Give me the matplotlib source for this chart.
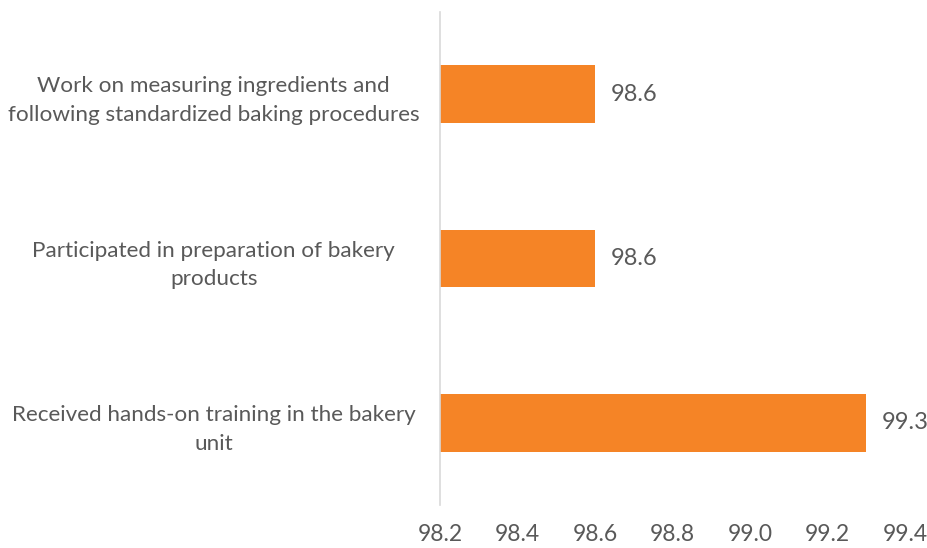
import matplotlib.pyplot as plt

# Survey items (bottom to top as drawn) and their scores
items = [
    "Received hands-on training in the bakery\nunit",
    "Participated in preparation of bakery\nproducts",
    "Work on measuring ingredients and\nfollowing standardized baking procedures",
]
scores = [99.3, 98.6, 98.6]
ticks = [98.2, 98.4, 98.6, 98.8, 99.0, 99.2, 99.4]

plt.rcParams['font.family'] = ['Lato', 'DejaVu Sans']
text_col = '#595959'
fs = 17

fig = plt.figure(figsize=(9.27, 5.48), dpi=100)
ax = fig.add_axes([0.4747, 0.0785, 0.5016, 0.8995])

ypos = range(len(items))
ax.barh(ypos, [s - ticks[0] for s in scores], left=ticks[0], height=0.35,
        color='#F58426')
for y, s in zip(ypos, scores):
    ax.text(s + 0.04, y, f"{s:.1f}", va='center', ha='left',
            fontsize=fs, color=text_col)

ax.set_xlim(ticks[0], ticks[-1])
ax.set_ylim(-0.5, len(items) - 0.5)
ax.set_xticks(ticks)
ax.set_xticklabels([f"{t:.1f}" for t in ticks], fontsize=16.5, color=text_col)
ax.set_yticks(list(ypos))
ax.set_yticklabels(items, fontsize=16.2, color=text_col, ha='center',
                   linespacing=1.55)
ax.tick_params(axis='y', length=0, pad=163)
ax.tick_params(axis='x', length=0, pad=14)

for side in ['top', 'right', 'bottom']:
    ax.spines[side].set_visible(False)
ax.spines['left'].set_color('#D9D9D9')
ax.spines['left'].set_linewidth(1.2)

fig.savefig('out.png', dpi=100)
